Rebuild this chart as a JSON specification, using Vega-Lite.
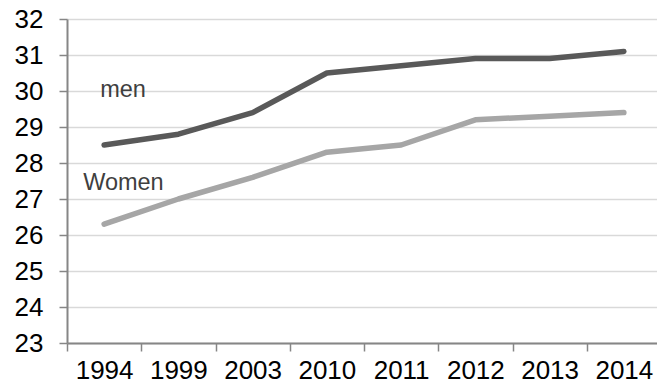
{
  "$schema": "https://vega.github.io/schema/vega-lite/v6.json",
  "width": 594,
  "height": 324,
  "autosize": "none",
  "padding": {"left": 67, "top": 19, "right": 0, "bottom": 45},
  "background": "white",
  "config": {"view": {"stroke": null}, "font": "Liberation Sans"},
  "datasets": {
    "series": [
      {"year": "1994", "sex": "men", "value": 28.5},
      {"year": "1999", "sex": "men", "value": 28.8},
      {"year": "2003", "sex": "men", "value": 29.4},
      {"year": "2010", "sex": "men", "value": 30.5},
      {"year": "2011", "sex": "men", "value": 30.7},
      {"year": "2012", "sex": "men", "value": 30.9},
      {"year": "2013", "sex": "men", "value": 30.9},
      {"year": "2014", "sex": "men", "value": 31.1},
      {"year": "1994", "sex": "Women", "value": 26.3},
      {"year": "1999", "sex": "Women", "value": 27.0},
      {"year": "2003", "sex": "Women", "value": 27.6},
      {"year": "2010", "sex": "Women", "value": 28.3},
      {"year": "2011", "sex": "Women", "value": 28.5},
      {"year": "2012", "sex": "Women", "value": 29.2},
      {"year": "2013", "sex": "Women", "value": 29.3},
      {"year": "2014", "sex": "Women", "value": 29.4}
    ],
    "labels": [
      {"year": "1994", "label": "men", "value": 30.03},
      {"year": "1994", "label": "Women", "value": 27.44}
    ]
  },
  "encoding": {
    "x": {
      "field": "year", "type": "ordinal", "bandPosition": 0.5, "sort": ["1994", "1999", "2003", "2010", "2011", "2012", "2013", "2014"],
      "scale": {"type": "band", "paddingInner": 0, "paddingOuter": 0},
      "axis": {
        "title": null, "labelAngle": 0, "tickBand": "extent", "tickSize": 8,
        "domainColor": "#868686", "tickColor": "#868686", "domainWidth": 2, "tickWidth": 1.5,
        "labelFontSize": 26, "labelColor": "#000000", "labelPadding": 6, "grid": false,
        "labelOverlap": false
      }
    },
    "y": {
      "field": "value", "type": "quantitative",
      "scale": {"domain": [23, 32], "nice": false, "zero": false},
      "axis": {
        "title": null, "values": [23, 24, 25, 26, 27, 28, 29, 30, 31, 32],
        "grid": true, "gridColor": "#d9d9d9", "gridWidth": 1.5,
        "domainColor": "#868686", "tickColor": "#868686", "domainWidth": 2, "tickWidth": 1.5,
        "tickSize": 8, "labelPadding": 16, "labelFontSize": 26, "labelColor": "#000000",
        "labelOverlap": false, "labelFlush": false
      }
    }
  },
  "layer": [
    {
      "data": {"name": "series"},
      "mark": {"type": "line", "strokeWidth": 5.5, "strokeCap": "round", "strokeJoin": "round"},
      "encoding": {
        "color": {
          "field": "sex", "type": "nominal",
          "scale": {"domain": ["men", "Women"], "range": ["#595959", "#a6a6a6"]},
          "legend": null
        }
      }
    },
    {
      "data": {"name": "labels"},
      "transform": [{"filter": "datum.label === 'men'"}],
      "mark": {"type": "text", "align": "left", "baseline": "middle", "fontSize": 23.5, "color": "#3f3f3f", "dx": -4},
      "encoding": {
        "text": {"field": "label"}
      }
    },
    {
      "data": {"name": "labels"},
      "transform": [{"filter": "datum.label === 'Women'"}],
      "mark": {"type": "text", "align": "left", "baseline": "middle", "fontSize": 23.5, "color": "#3f3f3f", "dx": -21},
      "encoding": {
        "text": {"field": "label"}
      }
    }
  ]
}
